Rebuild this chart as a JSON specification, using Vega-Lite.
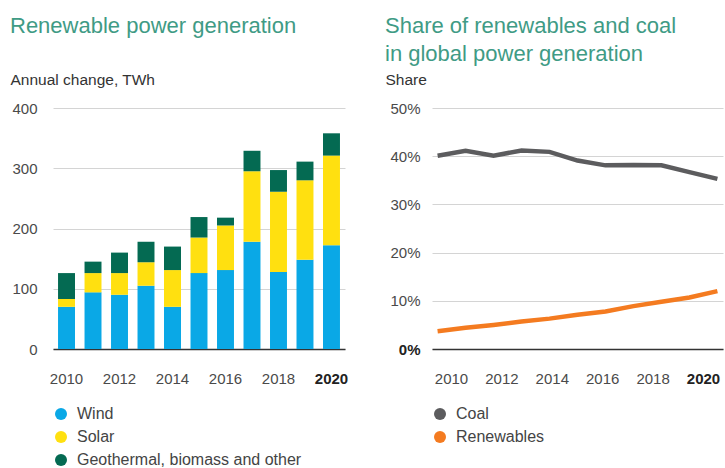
{
  "$schema": "https://vega.github.io/schema/vega-lite/v6.json",
  "background": "white",
  "padding": {"left": 10, "top": 15, "right": 0, "bottom": 0},
  "bounds": "flush",
  "spacing": 87,
  "resolve": {"scale": {"color": "independent"}, "legend": {"color": "independent"}},
  "config": {
    "font": "Liberation Sans",
    "view": {"stroke": null},
    "axis": {
      "labelFont": "Liberation Sans",
      "labelFontSize": 15,
      "labelColor": "#4a4a4a",
      "titleFont": "Liberation Sans",
      "titleFontSize": 15.5,
      "titleFontWeight": "normal",
      "titleColor": "#333333",
      "gridColor": "#d4d4d4",
      "gridWidth": 1
    },
    "legend": {
      "labelFont": "Liberation Sans",
      "labelFontSize": 16,
      "labelColor": "#444444",
      "labelLimit": 400
    },
    "title": {"font": "Liberation Sans"}
  },
  "hconcat": [
    {
      "title": {
        "text": "Renewable power generation",
        "anchor": "start",
        "frame": "group",
        "dx": -43,
        "offset": 34,
        "fontSize": 22,
        "fontWeight": "normal",
        "color": "#3f9b85"
      },
      "width": 292,
      "height": 241,
      "data": {
        "values": [
          {"year": 2010, "type": "Wind", "k": 1, "value": 70},
          {"year": 2010, "type": "Solar", "k": 2, "value": 13},
          {"year": 2010, "type": "Geothermal, biomass and other", "k": 3, "value": 43},
          {"year": 2011, "type": "Wind", "k": 1, "value": 94},
          {"year": 2011, "type": "Solar", "k": 2, "value": 32},
          {"year": 2011, "type": "Geothermal, biomass and other", "k": 3, "value": 19},
          {"year": 2012, "type": "Wind", "k": 1, "value": 90},
          {"year": 2012, "type": "Solar", "k": 2, "value": 36},
          {"year": 2012, "type": "Geothermal, biomass and other", "k": 3, "value": 34},
          {"year": 2013, "type": "Wind", "k": 1, "value": 105},
          {"year": 2013, "type": "Solar", "k": 2, "value": 39},
          {"year": 2013, "type": "Geothermal, biomass and other", "k": 3, "value": 34},
          {"year": 2014, "type": "Wind", "k": 1, "value": 70},
          {"year": 2014, "type": "Solar", "k": 2, "value": 61},
          {"year": 2014, "type": "Geothermal, biomass and other", "k": 3, "value": 39},
          {"year": 2015, "type": "Wind", "k": 1, "value": 126},
          {"year": 2015, "type": "Solar", "k": 2, "value": 59},
          {"year": 2015, "type": "Geothermal, biomass and other", "k": 3, "value": 34},
          {"year": 2016, "type": "Wind", "k": 1, "value": 131},
          {"year": 2016, "type": "Solar", "k": 2, "value": 74},
          {"year": 2016, "type": "Geothermal, biomass and other", "k": 3, "value": 13},
          {"year": 2017, "type": "Wind", "k": 1, "value": 178},
          {"year": 2017, "type": "Solar", "k": 2, "value": 117},
          {"year": 2017, "type": "Geothermal, biomass and other", "k": 3, "value": 34},
          {"year": 2018, "type": "Wind", "k": 1, "value": 128},
          {"year": 2018, "type": "Solar", "k": 2, "value": 133},
          {"year": 2018, "type": "Geothermal, biomass and other", "k": 3, "value": 36},
          {"year": 2019, "type": "Wind", "k": 1, "value": 148},
          {"year": 2019, "type": "Solar", "k": 2, "value": 132},
          {"year": 2019, "type": "Geothermal, biomass and other", "k": 3, "value": 31},
          {"year": 2020, "type": "Wind", "k": 1, "value": 172},
          {"year": 2020, "type": "Solar", "k": 2, "value": 149},
          {"year": 2020, "type": "Geothermal, biomass and other", "k": 3, "value": 37}
        ]
      },
      "mark": {"type": "bar"},
      "encoding": {
        "x": {
          "field": "year",
          "type": "ordinal",
          "scale": {"paddingInner": 0.36, "paddingOuter": 0.19},
          "axis": {
            "values": [2010, 2012, 2014, 2016, 2018, 2020],
            "title": null,
            "labelAngle": 0,
            "ticks": false,
            "grid": false,
            "labelPadding": 22,
            "domainColor": "#333333",
            "domainWidth": 1.5,
            "labelFontWeight": {"condition": {"test": "datum.value == 2020", "value": "bold"}, "value": "normal"},
            "labelColor": {"condition": {"test": "datum.value == 2020", "value": "#222222"}, "value": "#4a4a4a"}
          }
        },
        "y": {
          "field": "value",
          "type": "quantitative",
          "stack": "zero",
          "scale": {"domain": [0, 400], "nice": false},
          "axis": {
            "values": [0, 100, 200, 300, 400],
            "title": "Annual change, TWh",
            "titleAngle": 0,
            "titleAlign": "left",
            "titleBaseline": "alphabetic",
            "titleX": -43,
            "titleY": -24,
            "domain": false,
            "ticks": false,
            "labelPadding": 16,
            "grid": true
          }
        },
        "color": {
          "field": "type",
          "type": "nominal",
          "scale": {
            "domain": ["Wind", "Solar", "Geothermal, biomass and other"],
            "range": ["#0aa8e6", "#ffe010", "#046a52"]
          },
          "legend": {
            "orient": "none",
            "legendX": 0,
            "legendY": 298,
            "title": null,
            "direction": "vertical",
            "symbolType": "circle",
            "symbolSize": 144,
            "symbolStrokeWidth": 0,
            "rowPadding": 7,
            "labelOffset": 8,
            "labelLimit": 400,
            "padding": 0
          }
        },
        "order": {"field": "k", "type": "quantitative"}
      }
    },
    {
      "title": {
        "text": ["Share of renewables and coal", "in global power generation"],
        "anchor": "start",
        "frame": "group",
        "dx": -47,
        "offset": 6,
        "lineHeight": 28,
        "fontSize": 22,
        "fontWeight": "normal",
        "color": "#3f9b85"
      },
      "width": 291,
      "height": 241,
      "data": {
        "values": [
          {"year": 2010, "series": "Coal", "share": 40.1},
          {"year": 2011, "series": "Coal", "share": 41.1},
          {"year": 2012, "series": "Coal", "share": 40.1},
          {"year": 2013, "series": "Coal", "share": 41.2},
          {"year": 2014, "series": "Coal", "share": 40.9},
          {"year": 2015, "series": "Coal", "share": 39.1},
          {"year": 2016, "series": "Coal", "share": 38.1},
          {"year": 2017, "series": "Coal", "share": 38.2},
          {"year": 2018, "series": "Coal", "share": 38.1},
          {"year": 2019, "series": "Coal", "share": 36.7},
          {"year": 2020, "series": "Coal", "share": 35.3},
          {"year": 2010, "series": "Renewables", "share": 3.7},
          {"year": 2011, "series": "Renewables", "share": 4.4},
          {"year": 2012, "series": "Renewables", "share": 5.0},
          {"year": 2013, "series": "Renewables", "share": 5.7},
          {"year": 2014, "series": "Renewables", "share": 6.3},
          {"year": 2015, "series": "Renewables", "share": 7.1},
          {"year": 2016, "series": "Renewables", "share": 7.8},
          {"year": 2017, "series": "Renewables", "share": 8.9},
          {"year": 2018, "series": "Renewables", "share": 9.8},
          {"year": 2019, "series": "Renewables", "share": 10.7},
          {"year": 2020, "series": "Renewables", "share": 12.0}
        ]
      },
      "layer": [
        {
          "mark": {"type": "line", "strokeWidth": 4.5},
          "encoding": {
            "x": {
              "field": "year",
              "type": "quantitative",
              "scale": {"domain": [2009.8, 2020.2], "nice": false, "zero": false},
              "axis": null
            },
            "y": {
              "field": "share",
              "type": "quantitative",
              "scale": {"domain": [0, 50], "nice": false},
              "axis": {
                "values": [0, 10, 20, 30, 40, 50],
                "labelExpr": "datum.value + '%'",
                "title": "Share",
                "titleAngle": 0,
                "titleAlign": "left",
                "titleBaseline": "alphabetic",
                "titleX": -47,
                "titleY": -24,
                "domain": false,
                "ticks": false,
                "labelPadding": 12,
                "grid": true,
                "labelFontWeight": {"condition": {"test": "datum.value == 0", "value": "bold"}, "value": "normal"},
                "labelColor": {"condition": {"test": "datum.value == 0", "value": "#222222"}, "value": "#4a4a4a"}
              }
            },
            "color": {
              "field": "series",
              "type": "nominal",
              "scale": {"domain": ["Coal", "Renewables"], "range": ["#5c5c5e", "#f47b20"]},
              "legend": {
                "orient": "none",
                "legendX": 0,
                "legendY": 298,
                "title": null,
                "direction": "vertical",
                "symbolType": "circle",
                "symbolSize": 144,
                "rowPadding": 7,
                "labelOffset": 8,
                "padding": 0,
                "encode": {
                  "symbols": {
                    "update": {
                      "fill": {"signal": "datum.value == 'Coal' ? '#5c5c5e' : '#f47b20'"},
                      "strokeWidth": {"value": 0},
                      "opacity": {"value": 1}
                    }
                  }
                }
              }
            }
          }
        },
        {
          "mark": {"type": "point", "opacity": 0},
          "encoding": {
            "x": {
              "field": "year",
              "type": "quantitative",
              "scale": {"domain": [2009.246, 2020.794], "nice": false, "zero": false},
              "axis": {
                "orient": "bottom",
                "values": [2010, 2012, 2014, 2016, 2018, 2020],
                "format": "d",
                "title": null,
                "ticks": false,
                "grid": false,
                "labelPadding": 22,
                "labelFlush": false,
                "domainColor": "#333333",
                "domainWidth": 1.5,
                "labelFontWeight": {"condition": {"test": "datum.value == 2020", "value": "bold"}, "value": "normal"},
                "labelColor": {"condition": {"test": "datum.value == 2020", "value": "#222222"}, "value": "#4a4a4a"}
              }
            }
          }
        }
      ],
      "resolve": {"scale": {"x": "independent"}}
    }
  ]
}
